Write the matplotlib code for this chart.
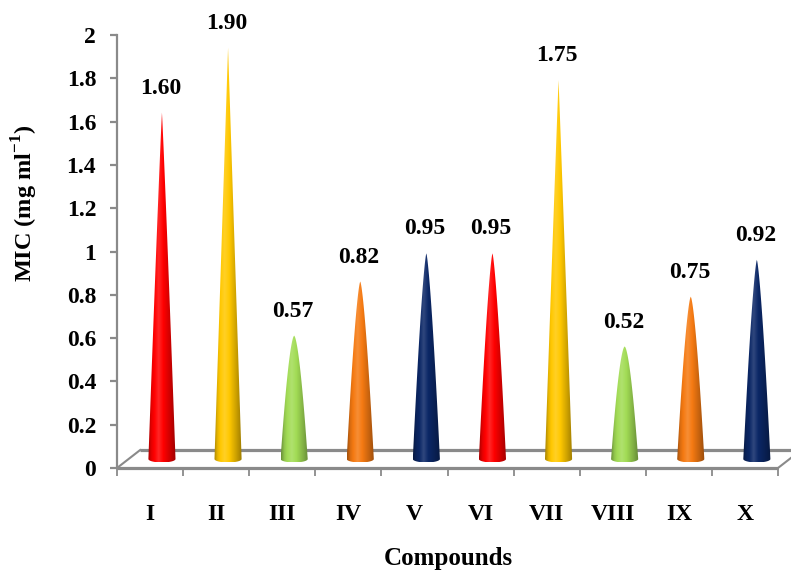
import numpy as np
import matplotlib
matplotlib.use("Agg")
import matplotlib.pyplot as plt
from matplotlib.patches import Polygon
from matplotlib.colors import to_rgb

plt.rcParams["font.family"] = ["Liberation Serif", "DejaVu Serif"]
plt.rcParams["font.weight"] = "bold"
plt.rcParams["mathtext.fontset"] = "custom"
plt.rcParams["mathtext.rm"] = "Liberation Serif:bold"
plt.rcParams["mathtext.bf"] = "Liberation Serif:bold"

# Data
compounds = ["I", "II", "III", "IV", "V", "VI", "VII", "VIII", "IX", "X"]
mic_values = [1.60, 1.90, 0.57, 0.82, 0.95, 0.95, 1.75, 0.52, 0.75, 0.92]
value_labels = ["1.60", "1.90", "0.57", "0.82", "0.95", "0.95", "1.75", "0.52", "0.75", "0.92"]
cone_colors = ["#FF0000", "#FFC800", "#A2DC55", "#F57A12", "#0B2766"]
y_ticks = [0, 0.2, 0.4, 0.6, 0.8, 1, 1.2, 1.4, 1.6, 1.8, 2]
y_tick_labels = ["0", "0.2", "0.4", "0.6", "0.8", "1", "1.2", "1.4", "1.6", "1.8", "2"]

W, H = 791, 573
fig = plt.figure(figsize=(W / 100, H / 100), dpi=100)
ax = fig.add_axes([117 / W, (H - 468) / H, (778 - 117) / W, (468 - 35) / H])

n = len(compounds)
xmin, xmax = -0.5, n - 0.5
ax.set_xlim(xmin, xmax)
ax.set_ylim(0, 2)

# 3D depth of the floor (in data units)
depth_dx, depth_dy = 0.35, 0.083
grey = "#8A8A8A"

# floor outline
ax.plot([xmin, xmax], [0, 0], color=grey, lw=2.3, clip_on=False, zorder=1, solid_capstyle="butt")
ax.plot([xmin + depth_dx, xmax + depth_dx], [depth_dy, depth_dy], color=grey, lw=2.3,
        clip_on=False, zorder=1, solid_capstyle="butt")
ax.plot([xmin, xmin + depth_dx], [0, depth_dy], color=grey, lw=1.5, clip_on=False, zorder=1)
ax.plot([xmax, xmax + depth_dx], [0, depth_dy], color=grey, lw=1.5, clip_on=False, zorder=1)


def shade_strip(base, npts=64):
    """Horizontal shading across a cone: dark rims, bright highlight left of centre."""
    t = np.linspace(0, 1, npts)
    stops_t = [0.0, 0.12, 0.38, 0.55, 0.8, 1.0]
    stops_f = [0.66, 0.9, 1.15, 1.0, 0.8, 0.62]
    f = np.interp(t, stops_t, stops_f)
    rgb = np.array(to_rgb(base))
    out = np.empty((1, npts, 3))
    for i, fi in enumerate(f):
        if fi <= 1:
            out[0, i] = rgb * fi
        else:
            out[0, i] = rgb + (1 - rgb) * (fi - 1)
    return np.clip(out, 0, 1)


half_w = 0.205
ell_h = 0.016
x_off = 0.18
base_y = depth_dy / 2

for i, (v, lab) in enumerate(zip(mic_values, value_labels)):
    xc = i + x_off
    s = np.linspace(0, 1, 120)
    # taper: short cones bulge a little, tall ones are close to straight
    p = min(1.0, 0.45 + 0.3 * v)
    hw = half_w * (1 - s) ** p
    left = np.column_stack([xc - hw, base_y + v * s])
    right = np.column_stack([xc + hw[::-1], base_y + v * s[::-1]])
    th = np.linspace(0, np.pi, 40)
    bottom = np.column_stack([xc + half_w * np.cos(th), base_y - ell_h * np.sin(th)])
    verts = np.vstack([left, right, bottom])
    patch = Polygon(verts, closed=True, facecolor="none", edgecolor="none")
    ax.add_patch(patch)
    img = ax.imshow(shade_strip(cone_colors[i % len(cone_colors)]),
                    extent=[xc - half_w, xc + half_w, base_y - ell_h, base_y + v],
                    aspect="auto", interpolation="bilinear", zorder=3)
    img.set_clip_path(patch)
    ax.annotate(lab, xy=(xc, base_y + v), xytext=(-1, 10), textcoords="offset points",
                ha="center", va="bottom", fontsize=17, fontweight="bold",
                annotation_clip=False)

ax.set_xlim(xmin, xmax)
ax.set_ylim(0, 2)

# axes styling
for side in ["top", "right", "bottom"]:
    ax.spines[side].set_visible(False)
ax.spines["left"].set_color(grey)
ax.spines["left"].set_linewidth(1.6)

ax.set_yticks(y_ticks)
ax.set_yticklabels(y_tick_labels, fontsize=17, fontweight="bold")
ax.tick_params(axis="y", direction="out", length=5, width=1.6, color=grey, pad=10)

ax.set_xticks(np.arange(-0.5, n, 1.0))
ax.set_xticklabels([])
ax.set_xticks(np.arange(n), minor=True)
ax.set_xticklabels(compounds, minor=True, fontsize=17, fontweight="bold")
ax.tick_params(axis="x", which="major", direction="out", length=6, width=1.3, color=grey)
ax.tick_params(axis="x", which="minor", length=0, pad=26)

fig.text(25 / W, (H - 203) / H, r"MIC (mg ml$^{-1}$)", rotation=90, ha="center", va="center",
         fontsize=17.5, fontweight="bold")
fig.text(448 / W, (H - 565) / H, "Compounds", ha="center", va="baseline",
         fontsize=18, fontweight="bold")

fig.savefig("out.png", dpi=100)
